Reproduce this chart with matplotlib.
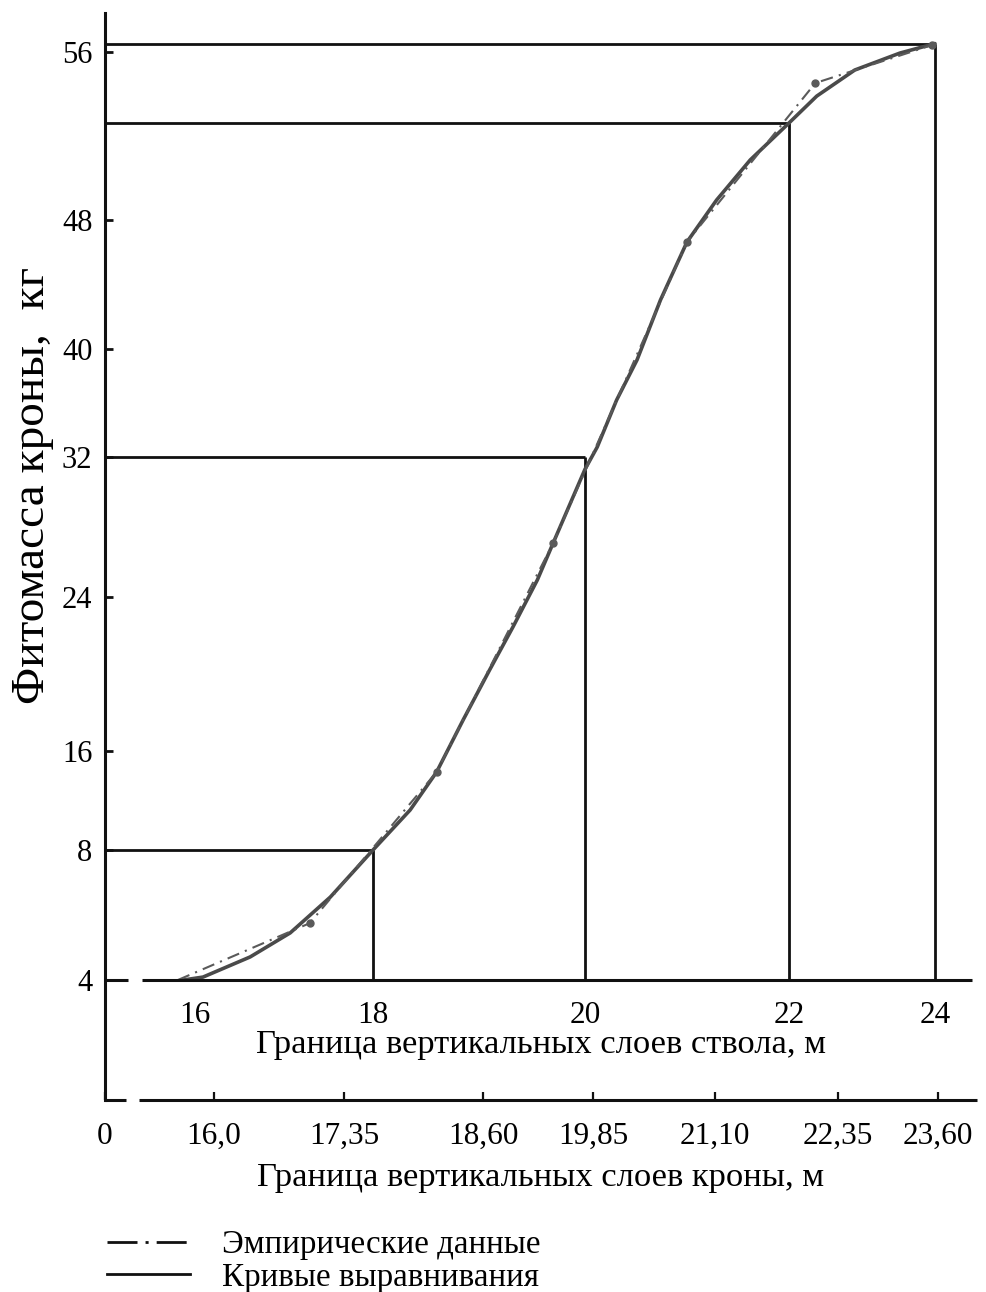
import numpy as np
import matplotlib
matplotlib.use("Agg")
import matplotlib.pyplot as plt
from matplotlib.lines import Line2D

plt.rcParams['font.family'] = ['Liberation Serif', 'DejaVu Serif']

# fitted curve: stem layer boundary (m) vs crown phytomass (kg)
fit_height = [15.87, 16.09, 16.62, 17.07, 17.52, 18.0, 18.35, 18.60, 18.85,
              19.10, 19.32, 19.55, 19.70, 20.0, 20.12, 20.31, 20.51, 20.74,
              21.0, 21.29, 21.62, 22.0, 22.38, 22.90, 23.52, 24.0]
fit_mass = [4.0, 4.09, 4.71, 5.45, 6.55, 8.0, 11.23, 14.30, 17.61,
            20.21, 22.44, 24.97, 27.09, 31.3, 32.74, 36.22, 39.19, 43.04,
            46.64, 48.95, 50.86, 52.62, 53.90, 55.14, 55.95, 56.4]

# empirical data
emp_height = [15.81, 17.29, 18.60, 19.70, 21.0, 22.36, 23.96]
emp_mass = [4.0, 5.75, 14.30, 27.09, 46.64, 54.52, 56.33]

# layer boundaries
layer_height = [18, 20, 22, 24]
layer_mass = [8.0, 32.0, 52.6, 56.4]

mass_ticks = [4, 8, 16, 24, 32, 40, 48, 56]
stem_ticks = [16, 18, 20, 22, 24]
crown_ticks = [0, 16.0, 17.35, 18.60, 19.85, 21.10, 22.35, 23.60]
crown_labels = ['0', '16,0', '17,35', '18,60', '19,85', '21,10', '22,35', '23,60']

# the graduations are hand drawn and uneven: value -> position along the axis
y_knots = [0, 4, 8, 16, 24, 32, 40, 48, 56, 60]
y_pos = -np.array([1110, 980, 850, 751, 597, 457, 349, 220, 52, -32], float)
x_knots = [15, 16, 18, 20, 22, 24, 25]
x_pos = [105, 195, 373, 585, 789, 935, 1008]
c_knots = [0, 16.0, 17.35, 18.60, 19.85, 21.10, 22.35, 23.60, 24.5]
c_pos = [105, 214, 344, 483, 593, 715, 838, 938, 1010]


def fy(v):
    return np.interp(v, y_knots, y_pos)


def fy_inv(p):
    return np.interp(p, y_pos, y_knots)


def fx(v):
    return np.interp(v, x_knots, x_pos)


def fx_inv(p):
    return np.interp(p, x_pos, x_knots)


def fc(v):
    return np.interp(v, c_knots, c_pos)


def fc_inv(p):
    return np.interp(p, c_pos, c_knots)


W, H = 987, 1292
fig = plt.figure(figsize=(W / 100, H / 100), dpi=100)
rect = [105 / W, 1 - 1100 / H, 872 / W, 1087 / H]
ax = fig.add_axes(rect)
ax.set_xscale('function', functions=(fx, fx_inv))
ax.set_yscale('function', functions=(fy, fy_inv))
ax.set_xlim(15, float(fx_inv(977)))
ax.set_ylim(float(fy_inv(-1100)), float(fy_inv(-13)))

ink = '#111111'
curve_col = '#4a4a4a'

# reference grid of layer boundaries
ax.vlines(layer_height, 4, layer_mass, color=ink, lw=2.0)
ax.hlines(layer_mass, 15, layer_height, color=ink, lw=2.0)

# curves
ax.plot(fit_height, fit_mass, color=curve_col, lw=2.6, solid_capstyle='round',
        solid_joinstyle='round')
ax.plot(emp_height, emp_mass, color='#5a5a5a', lw=1.5,
        linestyle=(0, (6, 3, 1, 3)), marker='o', markersize=5,
        markevery=list(range(1, len(emp_height))))

# stem axis sits on the 4 kg line, with a small break near the origin
ax.spines['bottom'].set_position(('data', 4))
ax.spines['bottom'].set_color('none')
ax.spines['top'].set_visible(False)
ax.spines['right'].set_visible(False)
ax.spines['left'].set_linewidth(2.2)
ax.spines['left'].set_color(ink)
ytr = ax.get_yaxis_transform()
ax.plot([0, 0.0264], [4, 4], transform=ytr, color=ink, lw=2.2,
        solid_capstyle='butt', clip_on=False)
ax.plot([0.0424, 0.9943], [4, 4], transform=ytr, color=ink, lw=2.2,
        solid_capstyle='butt', clip_on=False)
ax.plot([0, 0.024], [0, 0], transform=ax.transAxes, color=ink, lw=2.2,
        solid_capstyle='butt', clip_on=False)
ax.plot([0.039, 1.0], [0, 0], transform=ax.transAxes, color=ink, lw=2.2,
        solid_capstyle='butt', clip_on=False)

ax.set_xticks(stem_ticks, labels=[str(t) for t in stem_ticks])
ax.xaxis.set_minor_locator(matplotlib.ticker.NullLocator())
ax.tick_params(axis='x', length=0, labelsize=22.5, pad=15)
ax.set_yticks(mass_ticks, labels=[str(t) for t in mass_ticks])
ax.yaxis.set_minor_locator(matplotlib.ticker.NullLocator())
ax.tick_params(axis='y', direction='in', length=6, width=2, labelsize=22,
               pad=9, color=ink)
ax.set_xlabel('Граница вертикальных слоев ствола, м', fontsize=24.8,
              labelpad=0)

# crown axis along the bottom edge
ax2 = fig.add_axes(rect)
ax2.patch.set_alpha(0)
ax2.set_xscale('function', functions=(fc, fc_inv))
ax2.set_xlim(0, float(fc_inv(977)))
ax2.set_yticks([])
for s in ax2.spines.values():
    s.set_visible(False)
ax2.set_xticks(crown_ticks, labels=crown_labels)
ax2.xaxis.set_minor_locator(matplotlib.ticker.NullLocator())
ax2.tick_params(axis='x', direction='in', length=6, width=1.6, labelsize=22.5,
                pad=16, color=ink)
ax2.set_xlabel('Граница вертикальных слоев кроны, м', fontsize=24.8,
               labelpad=8)

fig.text(33 / W, 1 - 485 / H, 'Фитомасса кроны,  кг', rotation=90,
         ha='center', va='center', fontsize=34)

handles = [Line2D([], [], color=ink, lw=2, linestyle=(0, (10.8, 2.9, 1.1, 2.9))),
           Line2D([], [], color=ink, lw=2)]
fig.legend(handles, ['Эмпирические данные', 'Кривые выравнивания'],
           loc='upper left', bbox_to_anchor=(107 / W, 1 - 1230 / H),
           frameon=False, fontsize=23.8, handlelength=2.5, handletextpad=0.97,
           labelspacing=0.05, borderpad=0, borderaxespad=0)

fig.savefig('out.png', dpi=100)
